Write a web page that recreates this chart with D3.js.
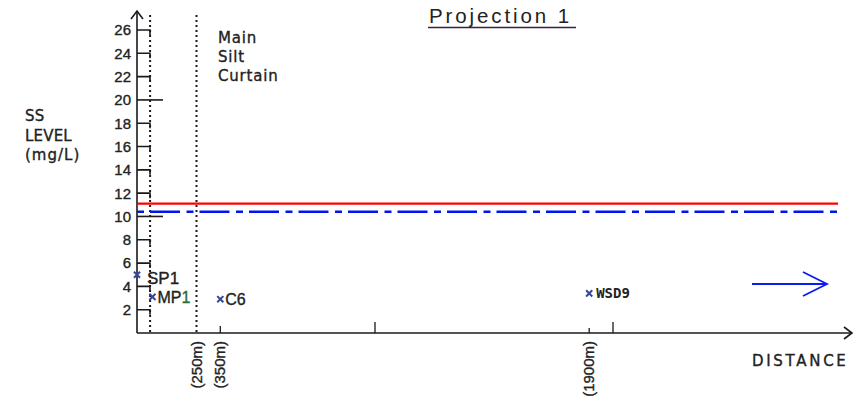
<!DOCTYPE html>
<html>
<head>
<meta charset="utf-8">
<script src="https://cdn.jsdelivr.net/npm/d3@7"></script>
<style>
  html, body { margin: 0; padding: 0; background: #fff; }
  svg { display: block; }
  .narrow { font-family: "Liberation Sans Narrow", "Arial Narrow", "Liberation Sans", sans-serif; font-stretch: condensed; }
  .heavy { stroke: #222; stroke-width: 0.35px; }
</style>
</head>
<body>
<script>
// SS level along the projection line
const yTicks = [2, 4, 6, 8, 10, 12, 14, 16, 18, 20, 22, 24, 26];
const yLongTicks = [10, 20];
const xLabelledTicks = [250, 350, 1900];
const xLabels = ["(250m)", "(350m)", "(1900m)"];
const xPlainTicks = [1000, 2000];
const boundaries = [55, 250];           // dotted vertical markers (m)
const stations = ["SP1", "MP1", "C6", "WSD9"];
const stationDistance = [0, 65, 350, 1900];
const stationLevel = [5.0, 3.1, 2.9, 3.4];
const limitLevel = 11.1;                // red solid line
const actionLevel = 10.4;               // blue dash-dot line

const W = 861, H = 398;
const svg = d3.select("body").append("svg").attr("width", W).attr("height", H);

const x = d3.scaleLinear().domain([0, 3000]).range([137, 851]);
const y = d3.scaleLinear().domain([0, 26]).range([333, 30]);

const ink = "#1a1a1a";
const x0 = x(0), y0 = y(0);

// Title
svg.append("text")
  .attr("x", 429).attr("y", 23)
  .attr("font-family", "Liberation Sans, Arial, sans-serif")
  .attr("font-size", 20.5).attr("letter-spacing", 2.9)
  .attr("fill", "#222")
  .text("Projection 1");
svg.append("line").attr("x1", 428).attr("x2", 576).attr("y1", 27.5).attr("y2", 27.5)
  .attr("stroke", "#3b1f47").attr("stroke-width", 1.6);

// Y axis title
svg.append("text")
  .attr("class", "heavy")
  .attr("font-family", "DejaVu Sans, sans-serif").attr("font-size", 15)
  .attr("fill", "#222")
  .selectAll("tspan").data(["SS", "LEVEL", "(mg/L)"]).join("tspan")
  .attr("x", 25).attr("y", (d, i) => 121 + i * 19.5)
  .attr("letter-spacing", (d, i) => i === 2 ? 1.0 : 0.2)
  .text(d => d);

// Silt curtain label
svg.append("text")
  .attr("class", "heavy")
  .attr("font-family", "DejaVu Sans, sans-serif").attr("font-size", 15)
  .attr("fill", "#222").attr("letter-spacing", 0.8)
  .selectAll("tspan").data(["Main", "Silt", "Curtain"]).join("tspan")
  .attr("x", 218).attr("y", (d, i) => 43 + i * 19)
  .text(d => d);

// Dotted boundary lines
svg.append("g").selectAll("line").data(boundaries).join("line")
  .attr("x1", d => x(d)).attr("x2", d => x(d))
  .attr("y1", 15).attr("y2", y0)
  .attr("stroke", ink).attr("stroke-width", 2)
  .attr("stroke-dasharray", "2,3");

// Y axis with arrow
svg.append("line").attr("x1", x0).attr("x2", x0).attr("y1", 11).attr("y2", y0)
  .attr("stroke", ink).attr("stroke-width", 1.6);
svg.append("path").attr("d", `M${x0 - 6},${19} L${x0},${11} L${x0 + 6},${19}`)
  .attr("fill", "none").attr("stroke", ink).attr("stroke-width", 1.6);

// Y ticks: short hooked ticks, longer plain ticks at 10 and 20
const yt = svg.append("g");
yt.selectAll("path").data(yTicks).join("path")
  .attr("d", d => yLongTicks.includes(d)
    ? `M${x0},${y(d)} H${x0 + 26}`
    : `M${x0},${y(d)} H${x0 + 13} v5`)
  .attr("fill", "none").attr("stroke", ink).attr("stroke-width", 1.6);
yt.selectAll("text").data(yTicks).join("text")
  .attr("class", "narrow heavy")
  .attr("x", x0 - 6).attr("y", d => y(d)).attr("dy", "0.36em")
  .attr("text-anchor", "end").attr("font-size", 15).attr("fill", "#222")
  .text(d => d);

// X axis with arrow
svg.append("line").attr("x1", x0).attr("x2", 852).attr("y1", y0).attr("y2", y0)
  .attr("stroke", ink).attr("stroke-width", 1.6);
svg.append("path").attr("d", `M${844},${y0 - 6} L${852},${y0} L${844},${y0 + 6}`)
  .attr("fill", "none").attr("stroke", ink).attr("stroke-width", 1.6);

svg.append("g").selectAll("line").data(xLabelledTicks.slice(1)).join("line")
  .attr("x1", d => x(d)).attr("x2", d => x(d))
  .attr("y1", (d, i) => y0 - (i === 0 ? 7 : 5)).attr("y2", y0)
  .attr("stroke", ink).attr("stroke-width", 1.3);
svg.append("g").selectAll("line").data(xPlainTicks).join("line")
  .attr("x1", d => x(d)).attr("x2", d => x(d))
  .attr("y1", y0 - 11).attr("y2", y0)
  .attr("stroke", ink).attr("stroke-width", 1.3);

svg.append("g").selectAll("text").data(xLabelledTicks).join("text")
  .attr("class", "narrow heavy")
  .attr("transform", d => `translate(${x(d) + 5},${341}) rotate(-90)`)
  .attr("text-anchor", "end").attr("font-size", 15).attr("fill", "#222")
  .text((d, i) => xLabels[i]);

svg.append("text")
  .attr("class", "heavy")
  .attr("x", 752).attr("y", 366)
  .attr("font-family", "DejaVu Sans, sans-serif").attr("font-size", 15)
  .attr("letter-spacing", 2.7).attr("fill", "#222")
  .text("DISTANCE");

// Limit lines
svg.append("line")
  .attr("x1", x0).attr("x2", 838).attr("y1", y(limitLevel)).attr("y2", y(limitLevel))
  .attr("stroke", "#ff0000").attr("stroke-width", 2.2);
svg.append("line")
  .attr("x1", x0).attr("x2", 838).attr("y1", y(actionLevel)).attr("y2", y(actionLevel))
  .attr("stroke", "#0014f0").attr("stroke-width", 2.6)
  .attr("stroke-dasharray", "7,6,30,6.5");

// Monitoring stations
const pts = stations.map((s, i) => ({ name: s, d: stationDistance[i], v: stationLevel[i] }));
const sym = d3.symbol().type(d3.symbolTimes).size(26);
svg.append("g").selectAll("path").data(pts).join("path")
  .attr("transform", d => `translate(${x(d.d)},${y(d.v)})`)
  .attr("d", sym)
  .attr("fill", "none").attr("stroke", "#34479a").attr("stroke-width", 2);

const lbl = svg.append("g");
pts.forEach(p => {
  const mono = p.name === "WSD9";
  const t = lbl.append("text")
    .attr("x", x(p.d) + (mono ? 7 : (p.name === "SP1" ? 10 : 5)))
    .attr("y", y(p.v) + (p.name === "SP1" ? 3 : 0))
    .attr("dy", "0.36em")
    .attr("fill", "#222");
  if (mono) {
    t.attr("font-family", "DejaVu Sans Mono, monospace").attr("font-size", 14)
      .attr("font-weight", "bold").text(p.name);
  } else {
    t.attr("class", "narrow heavy").attr("font-size", p.name === "SP1" ? 17 : 16);
    if (p.name === "MP1") {
      t.append("tspan").text("MP");
      t.append("tspan").attr("fill", "#2e6b3a").attr("stroke", "#2e6b3a").text("1");
    } else {
      t.text(p.name);
    }
  }
});

// Direction arrow
svg.append("line").attr("x1", 752).attr("x2", 827).attr("y1", 284).attr("y2", 284)
  .attr("stroke", "#0a1cf0").attr("stroke-width", 1.8);
svg.append("path").attr("d", "M803,272 L827,284 L803,296")
  .attr("fill", "none").attr("stroke", "#0a1cf0").attr("stroke-width", 1.8);
</script>
</body>
</html>
